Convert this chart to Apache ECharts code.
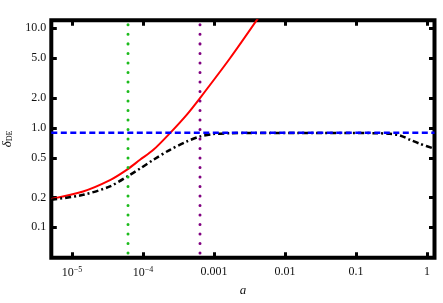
<!DOCTYPE html>
<html>
<head>
<meta charset="utf-8">
<script src="https://cdn.jsdelivr.net/npm/echarts@6/dist/echarts.min.js"></script>
<style>html,body{margin:0;padding:0;background:#fff}#c{width:443px;height:303px}</style>
</head>
<body>
<div id="c"></div>
<script>
// ---- data ----
const xTicks = [1e-5, 1e-4, 1e-3, 0.01, 0.1, 1];
const yTicks = [0.1, 0.2, 0.5, 1, 2, 5, 10];
const xRange = [5.11e-6, 1.275];
const yRange = [0.0495, 12.03];

const aRed = [5.11e-6, 1.43e-5, 3.43e-5, 5.89e-5, 9.08e-5, 1.40e-4, 2.40e-4, 4.12e-4, 6.35e-4, 1.68e-3, 4.74e-3];
const dRed = [0.193, 0.229, 0.298, 0.378, 0.477, 0.601, 0.885, 1.35, 1.99, 5.0, 14.4];

const aBlack = [5.11e-6, 1.43e-5, 3.43e-5, 6.56e-5, 9.08e-5, 1.40e-4, 2.40e-4, 4.12e-4, 6.35e-4, 9.68e-4, 1.68e-3, 3.21e-3, 0.0163, 0.0822, 0.2, 0.3, 0.417, 0.577, 0.797, 1.275];
const dBlack = [0.189, 0.212, 0.258, 0.337, 0.389, 0.477, 0.601, 0.728, 0.818, 0.865, 0.882, 0.887, 0.888, 0.887, 0.882, 0.87, 0.838, 0.758, 0.69, 0.615];

const blueLevel = 0.89;
const greenA = 6.15e-5;
const purpleA = 6.35e-4;

// ---- build ----
const zip = (xs, ys) => xs.map((x, i) => [x, ys[i]]);
const serif = 'Liberation Serif';
const txt = '#111';

function xFmt(v) {
  const e = Math.round(Math.log10(v));
  if (e <= -4) return '{b|10}{s|\u2212' + (-e) + '}';
  return ['0.001', '0.01', '0.1', '1'][e + 3];
}
function yFmt(v) {
  const r = Math.round(v * 10) / 10;
  return r >= 1 ? r.toFixed(1) : String(r);
}

const tickStyle = { show: true, inside: true, length: 5.5, lineStyle: { color: '#000', width: 3 } };

const chart = echarts.init(document.getElementById('c'), null, { renderer: 'canvas' });
chart.setOption({
  animation: false,
  backgroundColor: '#fff',
  grid: { left: 51.3, top: 20.3, right: 8.5, bottom: 45.3, containLabel: false, outerBoundsMode: 'none',
          show: true, borderColor: '#000', borderWidth: 4, backgroundColor: 'transparent' },
  xAxis: [
    {
      type: 'log', logBase: 10, min: xRange[0], max: xRange[1], position: 'bottom',
      axisLine: { show: false },
      axisTick: Object.assign({ customValues: xTicks }, tickStyle),
      minorTick: { show: false },
      splitLine: { show: false },
      axisLabel: {
        customValues: xTicks, formatter: xFmt, margin: 8, color: txt,
        fontFamily: serif, fontSize: 12,
        rich: {
          b: { fontFamily: serif, fontSize: 12, color: txt },
          s: { fontFamily: serif, fontSize: 8, color: txt, padding: [0, 0, 7, 0] }
        }
      },
      name: 'a', nameLocation: 'middle', nameGap: 26,
      nameTextStyle: { fontFamily: serif, fontStyle: 'italic', fontSize: 13, color: txt }
    },
    {
      type: 'log', logBase: 10, min: xRange[0], max: xRange[1], position: 'top',
      axisLine: { show: false },
      axisTick: Object.assign({ customValues: xTicks }, tickStyle),
      axisLabel: { show: false }, splitLine: { show: false }
    }
  ],
  yAxis: [
    {
      type: 'log', logBase: 10, min: yRange[0], max: yRange[1], position: 'left',
      axisLine: { show: false },
      axisTick: Object.assign({ customValues: yTicks }, tickStyle),
      minorTick: { show: false },
      splitLine: { show: false },
      axisLabel: { customValues: yTicks, formatter: yFmt, margin: 5, color: txt, fontFamily: serif, fontSize: 12 },
      name: '{d|\u03b4}{s|DE}', nameLocation: 'middle', nameGap: 35, nameRotate: 90,
      nameTextStyle: {
        color: txt,
        rich: {
          d: { fontFamily: serif, fontStyle: 'italic', fontSize: 13, color: txt },
          s: { fontFamily: serif, fontSize: 8, color: txt, padding: [5, 0, 0, 0] }
        }
      }
    },
    {
      type: 'log', logBase: 10, min: yRange[0], max: yRange[1], position: 'right',
      axisLine: { show: false },
      axisTick: Object.assign({ customValues: yTicks }, tickStyle),
      axisLabel: { show: false }, splitLine: { show: false }
    }
  ],
  series: [
    {
      type: 'line', data: zip(aRed, dRed), smooth: 0.3, showSymbol: false, symbol: 'none', clip: true,
      lineStyle: { color: '#ff0000', width: 2 }, z: 3
    },
    {
      type: 'line', data: zip(aBlack, dBlack), smooth: 0.3, showSymbol: false, symbol: 'none', clip: true,
      lineStyle: { color: '#000', width: 2.5, type: [6, 3, 2, 3] }, z: 3
    },
    {
      type: 'line', data: [[xRange[0], blueLevel], [xRange[1], blueLevel]], showSymbol: false, symbol: 'none',
      lineStyle: { color: '#0000ff', width: 2.5, type: [6, 3.5] }, z: 4
    },
    {
      type: 'line', data: [[greenA, yRange[1] * 0.9], [greenA, yRange[0] * 1.05]], showSymbol: false, symbol: 'none',
      lineStyle: { color: '#1cbb1c', width: 3, type: [0.01, 9.5], cap: 'round' }, z: 5
    },
    {
      type: 'line', data: [[purpleA, yRange[1] * 0.9], [purpleA, yRange[0] * 1.05]], showSymbol: false, symbol: 'none',
      lineStyle: { color: '#800080', width: 3, type: [0.01, 9.5], cap: 'round' }, z: 5
    }
  ]
});
</script>
</body>
</html>
